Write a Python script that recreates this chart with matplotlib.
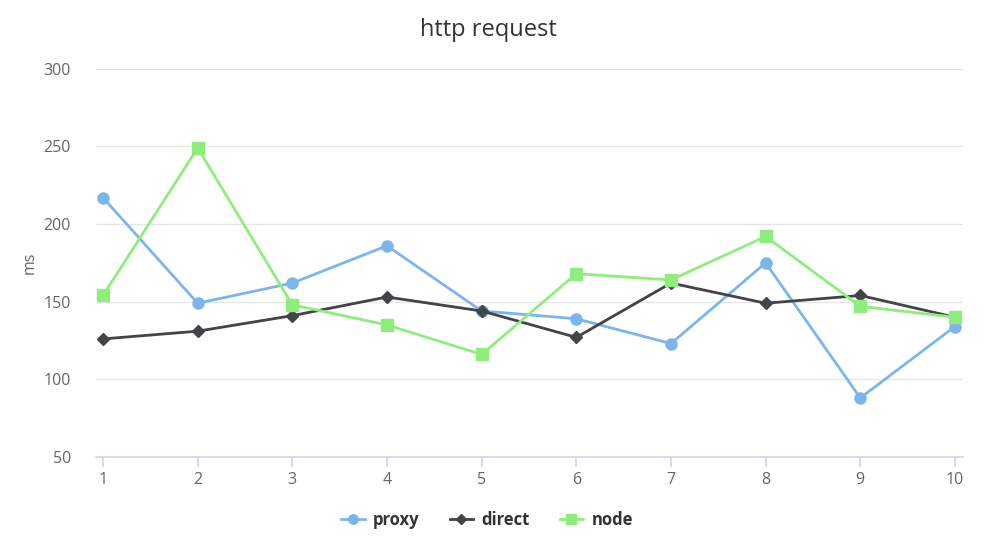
import matplotlib
matplotlib.use('Agg')
import matplotlib.pyplot as plt

# ── Data ──
runs = [1, 2, 3, 4, 5, 6, 7, 8, 9, 10]
proxy = [217, 149, 162, 186, 144, 139, 123, 175, 88, 134]
direct = [126, 131, 141, 153, 144, 127, 162, 149, 154, 140]
node = [154, 249, 148, 135, 116, 168, 164, 192, 147, 140]
y_ticks = [50, 100, 150, 200, 250, 300]

plt.rcParams['font.family'] = ['Open Sans', 'DejaVu Sans']

fig = plt.figure(figsize=(10, 5.42), dpi=100)
ax = fig.add_axes([0.096, 0.157, 0.867, 0.716])

ax.plot(runs, proxy, color='#7cb5ec', marker='o', markersize=8, linewidth=2, label='proxy', zorder=3)
ax.plot(runs, direct, color='#434348', marker='D', markersize=6, linewidth=2, label='direct', zorder=3)
ax.plot(runs, node, color='#90ed7d', marker='s', markersize=8, linewidth=2, label='node', zorder=3)

ax.set_xlim(0.926, 10.085)
ax.set_ylim(50, 300)
ax.set_yticks(y_ticks)
ax.set_xticks(runs)
ax.grid(True, axis='y', color='#e6e6e6', linewidth=1)
ax.set_axisbelow(True)

for side in ['top', 'right', 'left']:
    ax.spines[side].set_visible(False)
ax.spines['bottom'].set_color('#ccd6eb')
ax.spines['bottom'].set_linewidth(1.2)
ax.tick_params(axis='y', length=0, pad=18, labelsize=11.5, labelcolor='#666666')
ax.tick_params(axis='x', length=7, color='#ccd6eb', width=1.2, pad=4, labelsize=11.5, labelcolor='#666666')

ax.set_ylabel('ms', fontsize=11.5, color='#666666', labelpad=4)
fig.text(0.488, 0.945, 'http request', ha='center', va='center', fontsize=17, color='#333333')

leg = ax.legend(loc='upper center', bbox_to_anchor=(0.451, -0.1), ncol=3, frameon=False,
                fontsize=12, handlelength=1.4, columnspacing=1.8, handletextpad=0.5,
                markerscale=0.85)
for t in leg.get_texts():
    t.set_fontweight('bold')
    t.set_color('#333333')

fig.savefig('out.png', dpi=100, facecolor='white')
